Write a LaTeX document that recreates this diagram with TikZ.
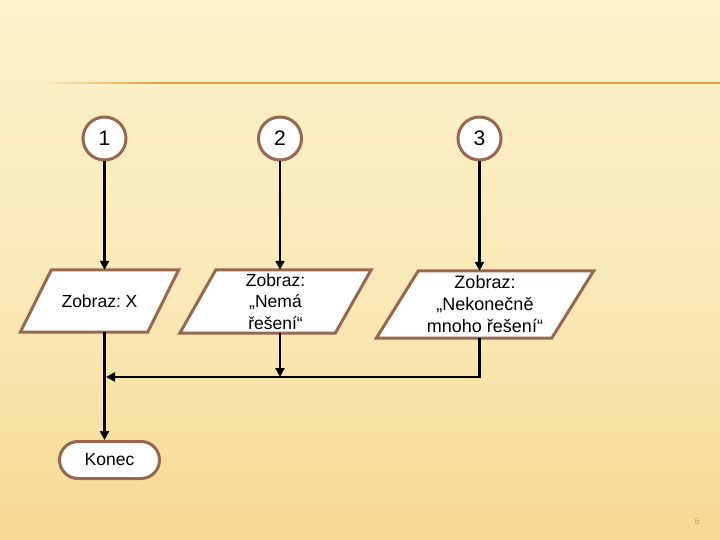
\documentclass[tikz,border=0pt]{standalone}
\usepackage{fontspec}
\setmainfont{Liberation Sans}
\frenchspacing
\usetikzlibrary{arrows.meta,shapes.misc}
\definecolor{bgtop}{RGB}{253,242,205}
\definecolor{bgmid}{RGB}{250,232,182}
\definecolor{bgbot}{RGB}{244,217,146}
\definecolor{rulec}{RGB}{224,162,66}
\definecolor{framec}{RGB}{150,104,82}
\pgfdeclarelayer{bgl}
\pgfdeclarelayer{shp}
\pgfsetlayers{bgl,shp,main}
\tikzset{
  conn/.style={circle, draw=framec, line width=3pt, fill=white, minimum size=43pt, inner sep=0pt, font=\fontsize{21}{21}\selectfont},
  iobox/.style={draw=none, inner sep=0pt, align=center, font=\fontsize{17.5}{21.5}\selectfont},
  paraline/.style={draw=framec, line width=3pt, fill=white, line join=miter},
  term/.style={rounded rectangle, draw=framec, line width=3pt, fill=white, minimum width=100pt, minimum height=37pt, inner sep=0pt, font=\fontsize{17.5}{20}\selectfont},
  flow/.style={line width=2.7pt, black, -{Triangle[length=9pt,width=9pt]}},
}
\newcommand\paraof[2]{%
  \path[paraline] ([xshift=#2/2]#1.north west) -- ([xshift=#2/2]#1.north east)
    -- ([xshift=-#2/2]#1.south east) -- ([xshift=-#2/2]#1.south west) -- cycle;}
\begin{document}
\begin{tikzpicture}[x=1pt,y=-1pt]
\useasboundingbox (0,0) rectangle (720,540);
\begin{pgfonlayer}{bgl}
  \shade[top color=bgtop, bottom color=bgmid] (0,0) rectangle (720,300);
  \shade[top color=bgmid, bottom color=bgbot] (0,300) rectangle (720,540);
  \foreach \i in {0,...,19}{
    \fill[rulec, opacity={(\i+1)/20}] ({40+6*\i},81.7) rectangle ({46+6*\i},84.3);
  }
  \fill[rulec] (160,81.7) rectangle (720,84.3);
\end{pgfonlayer}

% connectors (circles)
\node[conn] (c1) at (104.5,138.5) {1};
\node[conn] (c2) at (280,138.5) {2};
\node[conn] (c3) at (479.5,138.5) {3};

% output boxes
\node[iobox, minimum width=127pt, minimum height=62pt] (b1) at (99.5,301) {Zobraz: X};
\node[iobox, minimum width=155pt, minimum height=63pt] (b2) at (275.5,301.5) {Zobraz:\\„Nemá\\řešení“};
\node[iobox, font=\fontsize{18}{22}\selectfont, minimum width=175pt, minimum height=67pt] (b3) at (485,304.5) {Zobraz:\\„Nekonečně\\mnoho řešení“};
\begin{pgfonlayer}{shp}
  \paraof{b1}{31pt}
  \paraof{b2}{36pt}
  \paraof{b3}{42pt}
\end{pgfonlayer}

% terminal
\node[term] (konec) at (109.5,460) {Konec};

\coordinate (j) at (106,377);

% flow lines
\draw[flow] (c1) -- (c1 |- b1.north);
\draw[flow] (c2) -- (c2 |- b2.north);
\draw[flow] (c3) -- (c3 |- b3.north);
\draw[flow] (c1 |- b1.south) -- (c1 |- konec.north);
\draw[flow] (c2 |- b2.south) -- (c2 |- j);
\draw[flow] (c3 |- b3.south) -- (c3 |- j) -- (j);

% page number
\node[text=rulec, font=\fontsize{9}{9}\selectfont] (pg) at (697,521) {6};
\end{tikzpicture}
\end{document}
